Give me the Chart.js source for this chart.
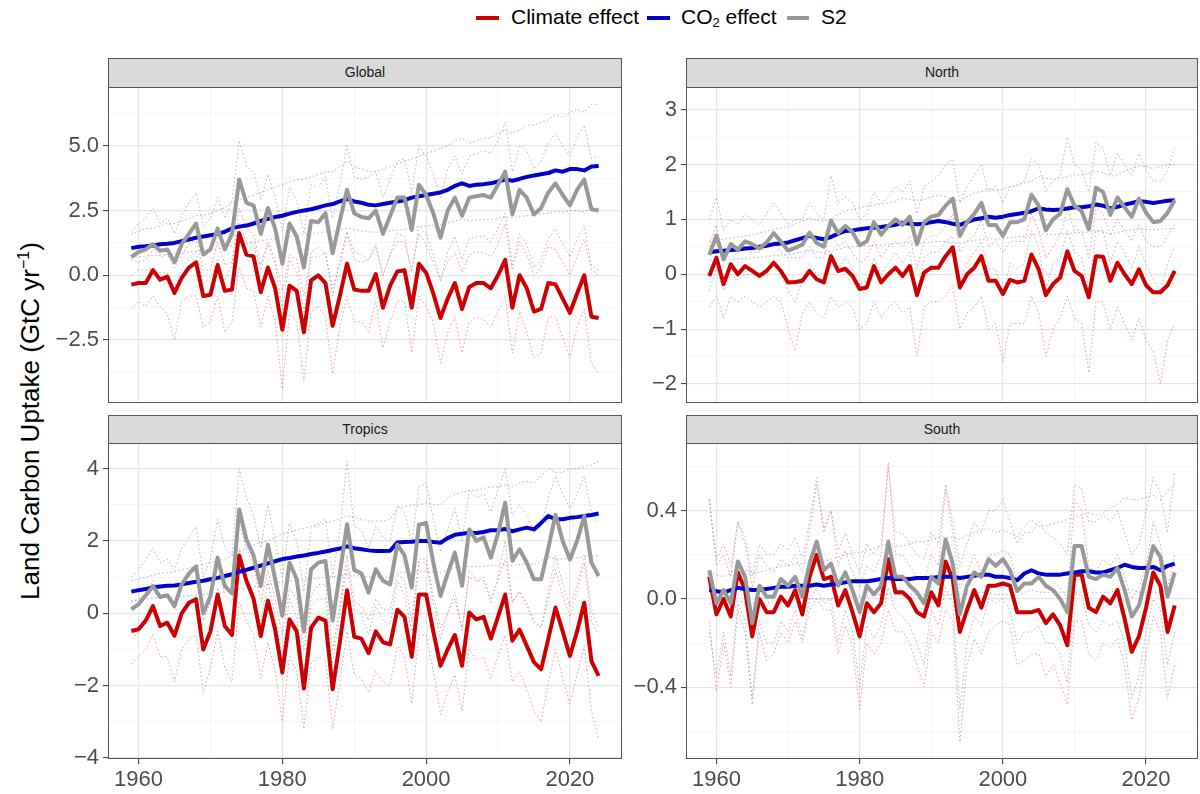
<!DOCTYPE html>
<html>
<head>
<meta charset="utf-8">
<script src="https://cdn.jsdelivr.net/npm/chart.js@4.4.1/dist/chart.umd.min.js"></script>
<style>
html,body{margin:0;padding:0;background:#fff;}
#root{position:relative;width:1200px;height:794px;overflow:hidden;font-family:"Liberation Sans",Arial,Helvetica,sans-serif;}
canvas.cv{position:absolute;}
.strip{position:absolute;background:#d9d9d9;border:1px solid #555;box-sizing:border-box;font-size:14px;color:#1a1a1a;text-align:center;line-height:27px;}
.lg-line{position:absolute;height:4px;}
.lg-text{position:absolute;font-size:21px;color:#000;line-height:24px;white-space:nowrap;}
.lg-text sub{font-size:13px;vertical-align:-3px;line-height:0;}
#ytitle{position:absolute;width:560px;left:-250px;top:406px;height:30px;line-height:30px;text-align:center;font-size:26px;color:#000;transform:rotate(-90deg);white-space:nowrap;}
#ytitle sup{font-size:16px;vertical-align:10px;line-height:0;}
</style>
</head>
<body>
<div id="root">
  <div class="lg-line" style="left:476px;top:16px;width:23px;background:#cc0000;"></div>
  <div class="lg-text" style="left:511px;top:5px;">Climate effect</div>
  <div class="lg-line" style="left:647px;top:16px;width:23px;background:#0000cc;"></div>
  <div class="lg-text" style="left:681px;top:5px;">CO<sub>2</sub> effect</div>
  <div class="lg-line" style="left:787px;top:16px;width:22px;background:#999999;"></div>
  <div class="lg-text" style="left:821px;top:5px;">S2</div>
  <div id="ytitle">Land Carbon Uptake (GtC yr<sup>−1</sup>)</div>

  <div class="strip" style="left:108px;top:58px;width:514px;height:30px;">Global</div>
  <div class="strip" style="left:686px;top:58px;width:512px;height:30px;">North</div>
  <div class="strip" style="left:108px;top:415px;width:514px;height:29px;">Tropics</div>
  <div class="strip" style="left:686px;top:415px;width:512px;height:29px;">South</div>

  <canvas id="cGlobal" class="cv"></canvas>
  <canvas id="cNorth" class="cv"></canvas>
  <canvas id="cTropics" class="cv"></canvas>
  <canvas id="cSouth" class="cv"></canvas>
</div>
<script>
// ---------------- DATA ----------------
const YEARS = [1959,1960,1961,1962,1963,1964,1965,1966,1967,1968,
  1969,1970,1971,1972,1973,1974,1975,1976,1977,1978,
  1979,1980,1981,1982,1983,1984,1985,1986,1987,1988,
  1989,1990,1991,1992,1993,1994,1995,1996,1997,1998,
  1999,2000,2001,2002,2003,2004,2005,2006,2007,2008,
  2009,2010,2011,2012,2013,2014,2015,2016,2017,2018,
  2019,2020,2021,2022,2023,2024];

const X_MAJOR = [1960,1980,2000,2020];
const X_MINOR = [1970,1990,2010];
const X_LABELS = ['1960','1980','2000','2020'];

// Global
const GLOBAL_Y_MAJOR = [-2.5,0,2.5,5];
const GLOBAL_Y_LABELS = ['−2.5','0.0','2.5','5.0'];
const GLOBAL_Y_MINOR = [-3.75,-1.25,1.25,3.75,6.25];
const GLOBAL_CLIMATE = [-0.36,-0.3,-0.3,0.2,-0.17,-0.05,-0.68,-0.1,0.3,0.5,
  -0.8,-0.75,0.4,-0.6,-0.55,1.63,0.8,0.73,-0.65,0.3,
  -0.5,-2.1,-0.4,-0.6,-2.2,-0.2,0.0,-0.3,-1.95,-0.8,
  0.45,-0.55,-0.6,-0.6,0.05,-1.25,-0.4,0.15,0.2,-1.25,
  0.45,0.1,-0.7,-1.65,-0.9,-0.3,-1.3,-0.45,-0.3,-0.3,
  -0.5,0.0,0.6,-1.25,0.0,-0.5,-1.4,-1.3,-0.3,-0.35,
  -0.9,-1.45,-0.7,0.0,-1.6,-1.65];
const GLOBAL_CO2 = [1.05,1.1,1.12,1.15,1.2,1.22,1.25,1.32,1.38,1.45,
  1.5,1.55,1.6,1.68,1.82,1.88,1.92,2.0,2.1,2.18,
  2.25,2.3,2.38,2.45,2.5,2.55,2.62,2.7,2.75,2.85,
  2.95,2.85,2.8,2.72,2.7,2.75,2.8,2.85,2.9,3.0,
  3.05,3.1,3.15,3.2,3.3,3.45,3.55,3.45,3.5,3.52,
  3.55,3.62,3.7,3.65,3.72,3.8,3.85,3.9,3.95,4.05,
  4.0,4.1,4.1,4.05,4.2,4.22];
const GLOBAL_S2 = [0.7,0.9,1.0,1.2,0.95,1.0,0.5,1.2,1.6,2.0,
  0.8,1.0,1.8,1.0,1.6,3.7,2.8,2.7,1.6,2.6,
  1.8,0.45,2.0,1.5,0.3,2.1,2.05,2.4,0.85,2.1,
  3.3,2.4,2.25,2.2,2.5,1.6,2.3,3.0,3.0,1.75,
  3.5,3.1,2.4,1.45,2.5,3.0,2.3,3.0,3.05,3.1,
  3.0,3.5,4.0,2.35,3.3,3.0,2.35,2.6,3.2,3.55,
  3.1,2.7,3.3,3.7,2.55,2.5];
const GLOBAL_CLIMATE_LO = [-1.3,-1.0,-1.2,-0.8,-1.2,-1.5,-2.5,-1.0,-0.8,-0.8,
  -2.0,-1.8,-0.8,-2.2,-1.8,0.3,-0.5,-0.6,-2.0,-0.8,
  -1.8,-4.4,-1.5,-1.8,-4.1,-1.4,-1.2,-1.6,-3.8,-2.0,
  -0.8,-1.8,-1.8,-2.2,-1.0,-2.8,-1.8,-1.0,-1.0,-3.0,
  -0.8,-1.2,-1.8,-3.4,-2.2,-1.6,-3.0,-1.8,-1.6,-1.7,
  -2.0,-1.4,-0.8,-3.0,-1.4,-2.2,-3.2,-3.0,-1.6,-1.6,
  -2.4,-3.2,-2.0,-1.3,-3.4,-3.8];
const GLOBAL_CLIMATE_HI = [0.6,0.5,0.6,1.0,0.7,0.8,0.3,0.8,1.2,1.4,
  0.2,0.2,1.3,0.4,0.5,2.6,1.8,1.6,0.4,1.3,
  0.6,-0.6,0.8,0.6,-0.8,0.9,1.1,0.8,-0.5,0.4,
  1.6,0.6,0.5,0.6,1.2,0.0,0.8,1.3,1.3,0.2,
  1.6,1.2,0.5,-0.2,0.5,0.9,0.1,0.8,0.9,0.9,
  0.7,1.2,2.0,0.2,1.3,0.8,0.0,0.3,1.1,1.0,
  0.5,0.0,0.7,1.4,0.2,0.0];
const GLOBAL_S2_HI = [1.7,2.0,2.2,2.6,2.0,2.2,1.6,2.3,2.8,3.2,
  1.9,2.2,3.0,2.2,2.9,5.2,4.2,4.0,2.9,3.9,
  3.0,1.7,3.4,2.9,1.6,3.5,3.4,3.8,2.2,3.5,
  5.0,3.8,3.7,3.8,4.0,3.0,3.7,4.4,4.5,3.2,
  5.0,4.6,3.9,3.0,4.1,4.6,3.9,4.6,4.7,4.8,
  4.7,5.2,5.9,4.0,5.0,4.8,4.1,4.4,5.1,5.5,
  5.0,4.6,5.3,5.8,4.5,4.6];
const GLOBAL_S2_LO = [0.0,0.2,0.2,0.3,0.1,0.1,-0.5,0.3,0.6,0.9,
  -0.3,-0.1,0.6,-0.2,0.4,2.0,1.3,1.2,0.2,1.2,
  0.4,-1.3,0.6,0.1,-1.4,0.7,0.7,0.9,-0.8,0.6,
  1.7,0.9,0.8,0.6,1.1,0.0,0.8,1.6,1.5,0.1,
  1.9,1.6,0.8,-0.2,0.9,1.5,0.6,1.4,1.5,1.5,
  1.3,1.8,2.4,0.4,1.6,1.2,0.3,0.6,1.4,1.8,
  1.2,0.7,1.4,1.9,0.4,0.2];
const GLOBAL_CO2_HI = [1.6,1.7,1.8,1.8,1.9,2.0,2.0,2.1,2.2,2.3,
  2.3,2.4,2.5,2.6,2.8,2.9,3.0,3.1,3.2,3.3,
  3.4,3.5,3.6,3.7,3.7,3.8,3.9,4.0,4.0,4.2,
  4.4,4.2,4.1,4.0,4.0,4.1,4.2,4.3,4.4,4.5,
  4.6,4.7,4.8,4.9,5.0,5.2,5.3,5.1,5.2,5.3,
  5.3,5.5,5.6,5.5,5.6,5.8,5.8,5.9,6.0,6.2,
  6.1,6.3,6.4,6.3,6.6,6.6];
const GLOBAL_CO2_LO = [0.7,0.72,0.74,0.76,0.78,0.8,0.82,0.86,0.9,0.94,
  0.97,1.0,1.04,1.08,1.15,1.2,1.22,1.27,1.33,1.38,
  1.42,1.45,1.5,1.54,1.57,1.6,1.64,1.68,1.7,1.76,
  1.82,1.76,1.72,1.68,1.66,1.7,1.72,1.75,1.78,1.84,
  1.87,1.9,1.93,1.96,2.02,2.1,2.17,2.1,2.13,2.15,
  2.16,2.2,2.25,2.22,2.26,2.3,2.34,2.37,2.4,2.46,
  2.43,2.5,2.5,2.46,2.55,2.57];

// North
const NORTH_Y_MAJOR = [-2,-1,0,1,2,3];
const NORTH_Y_LABELS = ['−2','−1','0','1','2','3'];
const NORTH_Y_MINOR = [-1.5,-0.5,0.5,1.5,2.5];
const NORTH_CLIMATE = [-0.03,0.3,-0.18,0.18,0.0,0.15,0.06,-0.03,0.06,0.21,
  0.06,-0.15,-0.14,-0.12,0.06,-0.09,-0.15,0.33,0.06,0.1,
  -0.03,-0.27,-0.24,0.15,-0.15,0.0,0.12,-0.03,0.15,-0.38,
  0.03,0.12,0.12,0.33,0.49,-0.24,0.0,0.12,0.33,-0.12,
  -0.12,-0.36,-0.1,-0.15,-0.12,0.36,0.09,-0.38,-0.18,-0.06,
  0.42,0.06,-0.03,-0.42,0.33,0.32,-0.12,0.21,0.0,-0.18,
  0.09,-0.2,-0.33,-0.33,-0.2,0.06];
const NORTH_CO2 = [0.4,0.42,0.43,0.44,0.45,0.47,0.48,0.5,0.52,0.55,
  0.56,0.58,0.62,0.66,0.7,0.66,0.64,0.68,0.74,0.79,
  0.8,0.82,0.84,0.85,0.86,0.88,0.9,0.94,0.92,0.91,
  0.92,0.95,0.97,0.95,0.92,0.9,0.95,1.0,1.02,1.05,
  1.03,1.05,1.08,1.1,1.12,1.15,1.2,1.18,1.17,1.18,
  1.2,1.22,1.22,1.24,1.27,1.25,1.2,1.23,1.27,1.3,
  1.33,1.32,1.3,1.32,1.34,1.35];
const NORTH_S2 = [0.35,0.7,0.27,0.55,0.45,0.6,0.55,0.47,0.58,0.75,
  0.6,0.43,0.48,0.54,0.76,0.57,0.5,0.98,0.75,0.88,
  0.77,0.53,0.6,0.95,0.72,0.88,1.0,0.9,1.05,0.55,
  0.95,1.05,1.08,1.25,1.38,0.7,0.95,1.1,1.3,0.9,
  0.9,0.7,0.95,0.95,1.0,1.45,1.25,0.8,1.0,1.1,
  1.55,1.25,1.15,0.82,1.58,1.5,1.08,1.4,1.22,1.05,
  1.38,1.12,0.95,0.97,1.12,1.35];
const NORTH_CLIMATE_LO = [-0.6,-0.4,-0.8,-0.4,-0.5,-0.4,-0.5,-0.6,-0.5,-0.4,
  -0.5,-1.0,-1.4,-0.7,-0.5,-0.7,-0.8,-0.4,-0.6,-0.5,
  -0.6,-1.0,-0.9,-0.5,-0.8,-0.6,-0.5,-0.7,-0.6,-1.5,
  -0.6,-0.5,-0.5,-0.4,-0.2,-1.0,-0.7,-0.6,-0.4,-1.0,
  -0.9,-1.6,-0.9,-0.9,-0.9,-0.4,-0.7,-1.5,-1.0,-0.8,
  -0.4,-0.8,-0.9,-1.8,-0.5,-0.5,-1.0,-0.6,-0.9,-1.2,
  -0.8,-1.2,-1.4,-2.0,-1.2,-0.9];
const NORTH_CLIMATE_HI = [0.5,0.9,0.3,0.6,0.4,0.5,0.4,0.4,0.5,0.6,
  0.4,0.3,0.3,0.3,0.5,0.3,0.3,0.8,0.5,0.6,
  0.4,0.2,0.3,0.6,0.3,0.5,0.6,0.5,0.7,0.1,
  0.6,0.7,0.7,0.9,1.1,0.4,0.6,0.7,1.0,0.5,
  0.6,0.4,0.6,0.6,0.6,1.1,0.8,0.3,0.5,0.7,
  1.2,0.8,0.8,0.3,1.2,1.1,0.7,1.0,0.8,0.6,
  0.9,0.6,0.5,0.5,0.7,0.9];
const NORTH_S2_HI = [1.0,1.4,0.8,1.0,0.9,1.1,1.0,0.9,1.1,1.3,
  1.1,0.9,1.0,1.0,1.3,1.1,1.0,1.8,1.3,1.4,
  1.3,1.0,1.1,1.5,1.3,1.4,1.6,1.5,1.7,1.1,
  1.6,1.7,1.8,2.0,2.1,1.3,1.6,1.8,2.0,1.5,
  1.6,1.3,1.6,1.6,1.7,2.1,2.0,1.5,1.7,1.8,
  2.5,2.0,1.9,1.5,2.4,2.3,1.8,2.2,2.0,1.8,
  2.2,1.9,1.7,1.7,1.9,2.3];
const NORTH_S2_LO = [-0.3,0.1,-0.3,0.0,-0.1,0.0,0.0,-0.1,0.0,0.2,
  0.0,-0.3,-0.5,-0.1,0.2,0.0,-0.1,0.4,0.1,0.3,
  0.1,-0.2,-0.1,0.3,0.0,0.2,0.4,0.2,0.4,-0.4,
  0.3,0.4,0.4,0.6,0.7,-0.1,0.2,0.4,0.6,0.1,
  0.1,-0.4,0.2,0.1,0.2,0.8,0.5,-0.3,0.2,0.3,
  0.8,0.4,0.3,-0.3,0.8,0.8,0.2,0.6,0.4,0.1,
  0.5,0.2,-0.1,-0.3,0.2,0.5];
const NORTH_CO2_HI = [0.6,0.62,0.64,0.66,0.68,0.7,0.72,0.75,0.78,0.82,
  0.84,0.87,0.92,0.97,1.03,0.98,0.96,1.01,1.09,1.16,
  1.18,1.21,1.24,1.26,1.28,1.3,1.33,1.39,1.36,1.35,
  1.36,1.41,1.44,1.41,1.36,1.34,1.41,1.48,1.51,1.55,
  1.53,1.55,1.6,1.63,1.66,1.7,1.78,1.75,1.73,1.75,
  1.78,1.81,1.81,1.84,1.88,1.85,1.78,1.82,1.88,1.93,
  1.97,1.96,1.93,1.96,1.99,2.0];
const NORTH_CO2_LO = [0.25,0.26,0.27,0.27,0.28,0.29,0.3,0.31,0.32,0.34,
  0.35,0.36,0.38,0.41,0.43,0.41,0.4,0.42,0.46,0.49,
  0.5,0.51,0.52,0.53,0.53,0.55,0.56,0.58,0.57,0.56,
  0.57,0.59,0.6,0.59,0.57,0.56,0.59,0.62,0.63,0.65,
  0.64,0.65,0.67,0.68,0.69,0.71,0.74,0.73,0.72,0.73,
  0.74,0.76,0.76,0.77,0.79,0.77,0.74,0.76,0.79,0.81,
  0.82,0.82,0.81,0.82,0.83,0.84];

// Tropics
const TROPICS_Y_MAJOR = [-4,-2,0,2,4];
const TROPICS_Y_LABELS = ['−4','−2','0','2','4'];
const TROPICS_Y_MINOR = [-3,-1,1,3];
const TROPICS_CLIMATE = [-0.49,-0.44,-0.2,0.2,-0.35,-0.26,-0.62,0.0,0.29,0.39,
  -1.0,-0.5,0.52,-0.35,-0.6,1.6,0.9,0.4,-0.63,0.35,
  -0.45,-1.64,-0.17,-0.5,-2.08,-0.4,-0.12,-0.2,-2.1,-0.8,
  0.64,-0.65,-0.7,-1.1,-0.5,-0.8,-0.86,0.1,-0.1,-1.2,
  0.52,0.52,-0.5,-1.45,-1.0,-0.6,-1.45,0.02,-0.17,-0.1,
  -0.7,-0.1,0.52,-0.76,-0.45,-0.9,-1.35,-1.55,-0.7,0.16,
  -0.5,-1.18,-0.5,0.29,-1.32,-1.73];
const TROPICS_CO2 = [0.6,0.64,0.67,0.72,0.74,0.76,0.77,0.8,0.84,0.87,
  0.9,0.94,0.98,1.03,1.08,1.15,1.2,1.26,1.32,1.38,
  1.44,1.5,1.53,1.57,1.6,1.64,1.67,1.71,1.75,1.79,
  1.85,1.8,1.77,1.74,1.72,1.72,1.73,1.96,1.97,1.98,
  2.0,2.0,1.97,1.95,2.08,2.17,2.2,2.23,2.22,2.25,
  2.3,2.3,2.33,2.27,2.32,2.37,2.32,2.5,2.69,2.6,
  2.6,2.64,2.66,2.69,2.72,2.76];
const TROPICS_S2 = [0.11,0.25,0.5,0.75,0.45,0.5,0.2,0.8,1.1,1.3,
  0.0,0.48,1.54,0.75,0.55,2.87,2.04,1.6,0.75,1.9,
  0.95,-0.07,1.4,0.95,-0.5,1.22,1.4,1.45,-0.2,1.1,
  2.46,1.2,1.1,0.57,1.22,0.9,0.8,1.9,1.6,0.71,
  2.45,2.5,1.4,0.48,1.1,1.68,0.76,2.32,2.0,2.1,
  1.54,2.2,3.06,1.45,1.77,1.4,0.94,0.94,1.8,2.73,
  2.0,1.49,2.0,2.69,1.4,1.03];
const TROPICS_CLIMATE_LO = [-1.4,-1.2,-1.0,-0.6,-1.2,-1.2,-1.9,-1.0,-0.7,-0.6,
  -2.2,-1.5,-0.5,-1.5,-1.9,0.3,-0.2,-0.6,-1.8,-0.8,
  -1.6,-3.0,-1.2,-1.6,-3.2,-1.4,-1.2,-1.3,-3.2,-1.9,
  -0.5,-1.7,-1.8,-2.2,-1.6,-1.9,-2.0,-0.9,-1.2,-2.5,
  -0.6,-0.6,-1.6,-2.8,-2.2,-1.7,-2.7,-1.0,-1.3,-1.2,
  -1.8,-1.2,-0.6,-1.9,-1.6,-2.1,-2.7,-3.0,-1.9,-1.0,
  -1.8,-2.5,-1.7,-0.9,-2.7,-3.5];
const TROPICS_CLIMATE_HI = [0.3,0.4,0.5,0.9,0.4,0.5,0.1,0.8,1.1,1.2,
  -0.2,0.3,1.4,0.5,0.3,2.5,1.8,1.3,0.3,1.2,
  0.4,-0.6,0.7,0.4,-1.0,0.5,0.8,0.8,-1.0,0.2,
  1.6,0.3,0.2,-0.2,0.4,0.1,0.1,1.1,0.9,-0.2,
  1.5,1.5,0.5,-0.4,0.0,0.4,-0.4,1.0,0.9,0.9,
  0.3,0.9,1.5,0.3,0.6,0.2,-0.2,-0.4,0.4,1.2,
  0.5,-0.1,0.6,1.4,-0.2,-0.6];
const TROPICS_S2_HI = [1.0,1.2,1.5,1.8,1.4,1.5,1.2,1.8,2.1,2.4,
  1.0,1.5,2.6,1.8,1.6,4.0,3.2,2.7,1.8,3.0,
  2.0,1.0,2.5,2.0,0.6,2.3,2.5,2.6,1.0,2.3,
  4.2,2.4,2.3,1.8,2.4,2.1,2.0,3.0,2.8,1.9,
  3.5,3.6,2.6,1.7,2.3,2.9,2.0,3.4,3.2,3.3,
  2.8,3.4,4.0,2.7,3.0,2.7,2.3,2.4,3.2,3.8,
  3.3,2.9,3.3,3.8,2.8,2.5];
const TROPICS_S2_LO = [-0.7,-0.5,-0.3,0.0,-0.4,-0.3,-0.7,0.0,0.3,0.5,
  -0.9,-0.4,0.7,-0.2,-0.4,1.8,1.0,0.6,-0.3,0.9,
  -0.1,-1.2,0.4,-0.1,-1.7,0.2,0.4,0.4,-1.4,0.0,
  1.3,0.1,0.0,-0.6,0.2,-0.2,-0.3,0.9,0.5,-0.5,
  1.4,1.4,0.3,-0.7,0.0,0.6,-0.5,1.2,0.9,1.0,
  0.4,1.0,2.0,0.3,0.6,0.3,-0.3,-0.4,0.6,1.6,
  0.8,0.2,0.8,1.6,0.1,-0.4];
const TROPICS_CO2_HI = [0.9,0.95,1.0,1.05,1.1,1.12,1.15,1.2,1.25,1.3,
  1.35,1.4,1.45,1.5,1.6,1.7,1.8,1.9,1.95,2.0,
  2.1,2.2,2.25,2.3,2.35,2.4,2.45,2.5,2.55,2.6,
  2.7,2.65,2.6,2.55,2.55,2.55,2.6,2.9,2.95,3.0,
  3.0,3.05,3.0,3.0,3.2,3.3,3.35,3.4,3.4,3.45,
  3.5,3.5,3.55,3.5,3.6,3.65,3.6,3.8,4.0,3.9,
  3.9,4.0,4.0,4.05,4.1,4.2];
const TROPICS_CO2_LO = [0.35,0.37,0.39,0.42,0.43,0.44,0.45,0.47,0.49,0.5,
  0.52,0.55,0.57,0.6,0.63,0.67,0.7,0.73,0.77,0.8,
  0.84,0.87,0.89,0.91,0.93,0.95,0.97,0.99,1.01,1.04,
  1.07,1.04,1.03,1.01,1.0,1.0,1.0,1.14,1.14,1.15,
  1.16,1.16,1.14,1.13,1.2,1.26,1.28,1.29,1.29,1.3,
  1.33,1.33,1.35,1.32,1.35,1.37,1.35,1.45,1.56,1.5,
  1.5,1.53,1.54,1.56,1.58,1.6];

// South
const SOUTH_Y_MAJOR = [-0.4,0,0.4];
const SOUTH_Y_LABELS = ['−0.4','0.0','0.4'];
const SOUTH_Y_MINOR = [-0.6,-0.2,0.2,0.6];
const SOUTH_CLIMATE = [0.1,-0.07,0.0,-0.08,0.12,0.04,-0.17,0.0,-0.06,-0.06,
  0.01,-0.03,0.04,-0.07,0.1,0.2,0.09,0.1,-0.03,0.04,
  -0.06,-0.17,-0.02,-0.06,-0.02,0.18,0.03,0.03,0.0,-0.06,
  -0.08,0.03,-0.03,0.17,0.09,-0.15,-0.05,0.04,-0.04,0.06,
  0.06,0.07,0.06,-0.06,-0.06,-0.06,-0.05,-0.11,-0.07,-0.12,
  -0.21,0.11,0.11,-0.04,-0.06,0.01,-0.02,0.04,-0.09,-0.24,
  -0.17,-0.04,0.12,0.06,-0.15,-0.03];
const SOUTH_CO2 = [0.04,0.035,0.03,0.04,0.05,0.045,0.04,0.04,0.045,0.05,
  0.055,0.055,0.06,0.06,0.06,0.065,0.06,0.065,0.07,0.075,
  0.08,0.08,0.08,0.085,0.09,0.095,0.09,0.09,0.09,0.095,
  0.095,0.095,0.1,0.1,0.1,0.095,0.1,0.105,0.11,0.11,
  0.1,0.1,0.095,0.085,0.115,0.13,0.115,0.11,0.11,0.11,
  0.115,0.12,0.125,0.125,0.12,0.12,0.13,0.14,0.155,0.145,
  0.14,0.14,0.145,0.13,0.15,0.16];
const SOUTH_S2 = [0.13,-0.02,0.04,-0.02,0.17,0.1,-0.11,0.06,0.01,0.01,
  0.09,0.06,0.1,0.01,0.16,0.26,0.13,0.16,0.06,0.12,
  0.04,-0.06,0.06,0.02,0.06,0.26,0.1,0.1,0.06,0.03,
  -0.02,0.1,0.07,0.27,0.16,-0.07,0.06,0.12,0.1,0.18,
  0.15,0.18,0.13,0.035,0.07,0.07,0.1,0.06,0.04,0.0,
  -0.06,0.24,0.24,0.1,0.09,0.11,0.1,0.14,0.04,-0.08,
  -0.03,0.1,0.24,0.19,0.01,0.12];
const SOUTH_CLIMATE_LO = [-0.1,-0.42,-0.2,-0.4,-0.05,-0.15,-0.48,-0.15,-0.28,-0.25,
  -0.15,-0.2,-0.1,-0.2,-0.05,0.0,-0.05,-0.05,-0.25,-0.12,
  -0.22,-0.5,-0.2,-0.25,-0.2,-0.05,-0.15,-0.15,-0.2,-0.3,
  -0.4,-0.15,-0.2,-0.05,-0.1,-0.65,-0.3,-0.18,-0.25,-0.15,
  -0.12,-0.1,-0.12,-0.3,-0.28,-0.25,-0.25,-0.35,-0.3,-0.38,
  -0.48,-0.1,-0.1,-0.25,-0.28,-0.2,-0.22,-0.18,-0.3,-0.55,
  -0.45,-0.25,-0.08,-0.15,-0.45,-0.3];
const SOUTH_CLIMATE_HI = [0.45,0.15,0.2,0.1,0.35,0.25,0.05,0.2,0.15,0.12,
  0.18,0.15,0.2,0.12,0.3,0.52,0.3,0.4,0.15,0.22,
  0.12,0.05,0.15,0.12,0.2,0.62,0.2,0.2,0.15,0.1,
  0.08,0.2,0.15,0.5,0.3,0.05,0.12,0.2,0.12,0.2,
  0.2,0.22,0.2,0.08,0.1,0.08,0.1,0.05,0.08,0.05,
  0.0,0.45,0.4,0.15,0.12,0.18,0.15,0.2,0.1,0.0,
  0.05,0.15,0.35,0.25,0.05,0.2];
const SOUTH_S2_HI = [0.45,0.18,0.25,0.15,0.35,0.28,0.1,0.25,0.2,0.2,
  0.25,0.22,0.28,0.18,0.35,0.55,0.32,0.4,0.22,0.3,
  0.2,0.12,0.25,0.2,0.25,0.6,0.3,0.3,0.25,0.2,
  0.18,0.3,0.25,0.52,0.35,0.15,0.25,0.35,0.3,0.4,
  0.4,0.45,0.35,0.25,0.3,0.3,0.35,0.3,0.28,0.25,
  0.2,0.52,0.5,0.35,0.35,0.38,0.35,0.4,0.3,0.2,
  0.25,0.4,0.55,0.48,0.3,0.58];
const SOUTH_S2_LO = [-0.15,-0.35,-0.15,-0.35,-0.02,-0.1,-0.45,-0.1,-0.2,-0.2,
  -0.1,-0.15,-0.05,-0.18,0.0,0.05,-0.02,0.0,-0.2,-0.05,
  -0.15,-0.4,-0.12,-0.18,-0.12,0.05,-0.05,-0.08,-0.12,-0.2,
  -0.3,-0.05,-0.12,0.05,-0.02,-0.5,-0.2,-0.08,-0.12,0.0,
  -0.02,0.0,-0.05,-0.2,-0.15,-0.15,-0.12,-0.2,-0.2,-0.25,
  -0.38,0.02,0.02,-0.12,-0.15,-0.1,-0.12,-0.1,-0.2,-0.45,
  -0.35,-0.15,0.0,-0.05,-0.3,-0.15];
const SOUTH_CO2_HI = [0.12,0.11,0.1,0.12,0.14,0.13,0.12,0.12,0.13,0.14,
  0.15,0.15,0.16,0.16,0.17,0.18,0.17,0.18,0.19,0.2,
  0.21,0.21,0.22,0.23,0.24,0.25,0.24,0.24,0.25,0.26,
  0.26,0.27,0.28,0.28,0.28,0.27,0.29,0.3,0.31,0.32,
  0.3,0.31,0.3,0.28,0.33,0.36,0.33,0.33,0.34,0.35,
  0.36,0.37,0.38,0.39,0.38,0.39,0.41,0.43,0.46,0.45,
  0.45,0.46,0.47,0.45,0.49,0.52];
const SOUTH_CO2_LO = [-0.02,-0.02,-0.03,-0.02,-0.01,-0.02,-0.02,-0.02,-0.02,-0.01,
  -0.01,-0.01,0.0,0.0,0.0,0.0,0.0,0.0,0.01,0.01,
  0.01,0.01,0.01,0.02,0.02,0.02,0.02,0.02,0.02,0.02,
  0.02,0.02,0.02,0.02,0.02,0.02,0.02,0.03,0.03,0.03,
  0.02,0.02,0.02,0.01,0.03,0.04,0.03,0.03,0.03,0.03,
  0.03,0.03,0.03,0.03,0.03,0.03,0.03,0.04,0.04,0.04,
  0.03,0.03,0.03,0.03,0.04,0.04];

// ---------------- STYLE / LAYOUT ----------------
const FONT = '"Liberation Sans", Arial, Helvetica, sans-serif';
const COL = {
  climate: '#cc0000', co2: '#0000cc', s2: '#999999',
  climateDot: 'rgba(225,70,70,0.55)', co2Dot: 'rgba(70,70,225,0.45)', s2Dot: 'rgba(110,110,110,0.5)'
};
const X_MIN = 1955.75, X_MAX = 2027.25;

const panelBorder = {
  id: 'panelBorder',
  afterDatasetsDraw(chart) {
    const a = chart.chartArea, c = chart.ctx;
    c.save();
    c.strokeStyle = '#555555';
    c.lineWidth = 1;
    c.strokeRect(Math.round(a.left) + 0.5, Math.round(a.top) + 0.5,
      Math.round(a.right - a.left) - 1, Math.round(a.bottom - a.top) - 1);
    c.restore();
  }
};

function near(arr, v) { return arr.findIndex(m => Math.abs(m - v) < 1e-9); }

function buildPanel(id, layout, p) {
  const el = document.getElementById(id);
  el.width = layout.w; el.height = layout.h;
  el.style.left = layout.x + 'px'; el.style.top = layout.y + 'px';
  el.style.width = layout.w + 'px'; el.style.height = layout.h + 'px';
  const mk = arr => YEARS.map((x, i) => ({ x: x, y: arr[i] }));
  const thick = (arr, col) => ({ data: mk(arr), borderColor: col, borderWidth: 4, pointRadius: 0,
    borderJoinStyle: 'round', borderCapStyle: 'butt', tension: 0, fill: false });
  const dotted = (arr, col) => ({ data: mk(arr), borderColor: col, borderWidth: 1, pointRadius: 0,
    borderDash: [1.5, 2.5], tension: 0, fill: false });
  const datasets = [
    thick(p.s2, COL.s2), thick(p.co2, COL.co2), thick(p.climate, COL.climate),
    dotted(p.s2Hi, COL.s2Dot), dotted(p.s2Lo, COL.s2Dot),
    dotted(p.co2Hi, COL.co2Dot), dotted(p.co2Lo, COL.co2Dot),
    dotted(p.climateHi, COL.climateDot), dotted(p.climateLo, COL.climateDot)
  ];
  const xTicks = X_MAJOR.concat(X_MINOR).sort((a, b) => a - b);
  const yTicks = p.yMajor.concat(p.yMinor).sort((a, b) => a - b);
  const bottom = layout.bottomRow;
  new Chart(el, {
    type: 'line',
    data: { datasets },
    options: {
      responsive: false, animation: false, events: [],
      layout: { padding: { left: 0, right: 2, top: 0, bottom: bottom ? 0 : 2 } },
      plugins: { legend: { display: false }, tooltip: { enabled: false }, title: { display: false } },
      scales: {
        x: {
          type: 'linear', min: X_MIN, max: X_MAX,
          afterBuildTicks: s => { s.ticks = xTicks.map(v => ({ value: v })); },
          afterFit: s => { s.height = bottom ? 34 : 0; s.paddingLeft = 0; s.paddingRight = 0; },
          border: { display: false },
          grid: {
            drawTicks: bottom, tickLength: 5,
            color: c => (c.tick && near(X_MAJOR, c.tick.value) >= 0) ? '#e6e6e6' : '#f1f1f1',
            lineWidth: c => (c.tick && near(X_MAJOR, c.tick.value) >= 0) ? 1.2 : 0.7,
            tickColor: c => (c.tick && near(X_MAJOR, c.tick.value) >= 0) ? '#333333' : 'rgba(0,0,0,0)',
            tickWidth: 1
          },
          ticks: {
            display: bottom, autoSkip: false, maxRotation: 0, minRotation: 0, padding: 3,
            color: '#4d4d4d', font: { family: FONT, size: 22 },
            callback: v => { const i = near(X_MAJOR, v); return i >= 0 ? X_LABELS[i] : ''; }
          }
        },
        y: {
          type: 'linear', min: p.yMin, max: p.yMax,
          afterBuildTicks: s => { s.ticks = yTicks.map(v => ({ value: v })); },
          afterFit: s => { s.width = 68; s.paddingTop = 0; s.paddingBottom = 0; },
          border: { display: false },
          grid: {
            drawTicks: true, tickLength: 5,
            color: c => (c.tick && near(p.yMajor, c.tick.value) >= 0) ? '#e6e6e6' : '#f1f1f1',
            lineWidth: c => (c.tick && near(p.yMajor, c.tick.value) >= 0) ? 1.2 : 0.7,
            tickColor: c => (c.tick && near(p.yMajor, c.tick.value) >= 0) ? '#333333' : 'rgba(0,0,0,0)',
            tickWidth: 1
          },
          ticks: {
            autoSkip: false, padding: 4, color: '#4d4d4d', font: { family: FONT, size: 22 },
            callback: v => { const i = near(p.yMajor, v); return i >= 0 ? p.yLabels[i] : ''; }
          }
        }
      }
    },
    plugins: [panelBorder]
  });
}

buildPanel('cGlobal', { x: 40, y: 87, w: 584, h: 318, bottomRow: false }, {
  yMin: -4.93, yMax: 7.27, yMajor: GLOBAL_Y_MAJOR, yMinor: GLOBAL_Y_MINOR, yLabels: GLOBAL_Y_LABELS,
  climate: GLOBAL_CLIMATE, co2: GLOBAL_CO2, s2: GLOBAL_S2,
  climateHi: GLOBAL_CLIMATE_HI, climateLo: GLOBAL_CLIMATE_LO,
  co2Hi: GLOBAL_CO2_HI, co2Lo: GLOBAL_CO2_LO, s2Hi: GLOBAL_S2_HI, s2Lo: GLOBAL_S2_LO
});
buildPanel('cNorth', { x: 618, y: 87, w: 582, h: 318, bottomRow: false }, {
  yMin: -2.347, yMax: 3.414, yMajor: NORTH_Y_MAJOR, yMinor: NORTH_Y_MINOR, yLabels: NORTH_Y_LABELS,
  climate: NORTH_CLIMATE, co2: NORTH_CO2, s2: NORTH_S2,
  climateHi: NORTH_CLIMATE_HI, climateLo: NORTH_CLIMATE_LO,
  co2Hi: NORTH_CO2_HI, co2Lo: NORTH_CO2_LO, s2Hi: NORTH_S2_HI, s2Lo: NORTH_S2_LO
});
buildPanel('cTropics', { x: 40, y: 443, w: 584, h: 350, bottomRow: true }, {
  yMin: -4.03, yMax: 4.71, yMajor: TROPICS_Y_MAJOR, yMinor: TROPICS_Y_MINOR, yLabels: TROPICS_Y_LABELS,
  climate: TROPICS_CLIMATE, co2: TROPICS_CO2, s2: TROPICS_S2,
  climateHi: TROPICS_CLIMATE_HI, climateLo: TROPICS_CLIMATE_LO,
  co2Hi: TROPICS_CO2_HI, co2Lo: TROPICS_CO2_LO, s2Hi: TROPICS_S2_HI, s2Lo: TROPICS_S2_LO
});
buildPanel('cSouth', { x: 618, y: 443, w: 582, h: 350, bottomRow: true }, {
  yMin: -0.726, yMax: 0.707, yMajor: SOUTH_Y_MAJOR, yMinor: SOUTH_Y_MINOR, yLabels: SOUTH_Y_LABELS,
  climate: SOUTH_CLIMATE, co2: SOUTH_CO2, s2: SOUTH_S2,
  climateHi: SOUTH_CLIMATE_HI, climateLo: SOUTH_CLIMATE_LO,
  co2Hi: SOUTH_CO2_HI, co2Lo: SOUTH_CO2_LO, s2Hi: SOUTH_S2_HI, s2Lo: SOUTH_S2_LO
});
</script>
</body>
</html>
